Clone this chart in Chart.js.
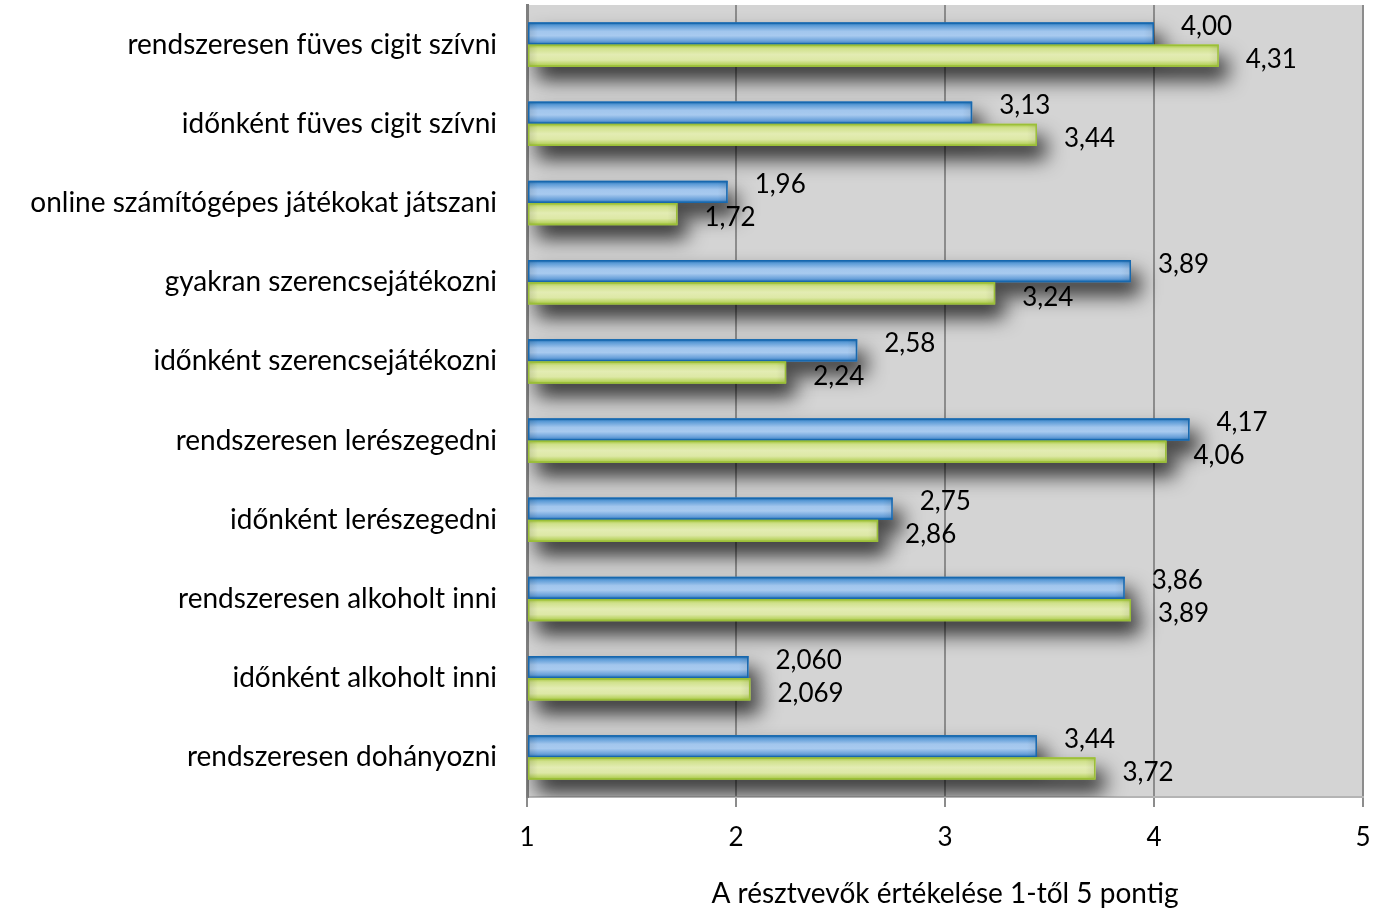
<!DOCTYPE html>
<html lang="hu">
<head>
<meta charset="utf-8">
<script src="https://cdn.jsdelivr.net/npm/chart.js@4"></script>
<style>
  html, body { margin: 0; padding: 0; background: #ffffff; }
  #wrap { width: 1395px; height: 908px; }
</style>
</head>
<body>
<div id="wrap"><canvas id="chart" width="1395" height="908"></canvas></div>
<script>
// Kategóriák (fentről lefelé)
const categories = [
  'rendszeresen füves cigit szívni',
  'időnként füves cigit szívni',
  'online számítógépes játékokat játszani',
  'gyakran szerencsejátékozni',
  'időnként szerencsejátékozni',
  'rendszeresen lerészegedni',
  'időnként lerészegedni',
  'rendszeresen alkoholt inni',
  'időnként alkoholt inni',
  'rendszeresen dohányozni'
];

// Kék sorozat
const blueValues = [4.00, 3.13, 1.96, 3.89, 2.58, 4.17, 2.75, 3.86, 2.060, 3.44];
const blueLabels = ['4,00', '3,13', '1,96', '3,89', '2,58', '4,17', '2,75', '3,86', '2,060', '3,44'];

// Zöld sorozat (a 7. sávot a képen rövidebbnek rajzolták, mint a felirata)
const greenValues = [4.31, 3.44, 1.72, 3.24, 2.24, 4.06, 2.68, 3.89, 2.069, 3.72];
const greenLabels = ['4,31', '3,44', '1,72', '3,24', '2,24', '4,06', '2,86', '3,89', '2,069', '3,72'];

const xTicks = [1, 2, 3, 4, 5];
const xTitle = 'A résztvevők értékelése 1-től 5 pontig';

const FONT = 'Lato, "Open Sans", sans-serif';

// Plot háttér
const plotBg = {
  id: 'plotBg',
  beforeDraw(chart) {
    const { ctx, chartArea: a } = chart;
    ctx.save();
    ctx.fillStyle = '#d4d4d4';
    ctx.fillRect(a.left, a.top, a.right - a.left, a.bottom - a.top);
    ctx.restore();
  }
};

// Árnyék + színátmenetes sávok + értékfeliratok
const barStyle = {
  id: 'barStyle',
  beforeDatasetsDraw(chart) {
    const ctx = chart.ctx;
    ctx.save();
    ctx.shadowColor = 'rgba(0,0,0,0.8)';
    ctx.shadowBlur = 20;
    ctx.shadowOffsetX = 9;
    ctx.shadowOffsetY = 13;
  },
  afterDatasetsDraw(chart) {
    const ctx = chart.ctx;
    ctx.restore();

    const styles = [
      { stops: [[0, '#1767ab'], [0.14, '#5a9ad6'], [0.4, '#a2c6ed'], [0.6, '#a8caef'], [0.85, '#679fd9'], [1, '#1a69ae']], border: '#1768ae', labels: blueLabels, dy: -7 },
      { stops: [[0, '#a5c63c'], [0.18, '#d0e18c'], [0.45, '#e3ecb3'], [0.7, '#dde8a6'], [0.9, '#b9d362'], [1, '#95bb30']], border: '#9bbf38', labels: greenLabels, dy: 4 }
    ];

    chart.data.datasets.forEach((ds, di) => {
      const meta = chart.getDatasetMeta(di);
      const st = styles[di];
      meta.data.forEach((bar, i) => {
        const p = bar.getProps(['x', 'y', 'base', 'height'], true);
        const top = p.y - p.height / 2;
        const left = Math.min(p.base, p.x);
        const w = Math.abs(p.x - p.base);
        const g = ctx.createLinearGradient(0, top, 0, top + p.height);
        st.stops.forEach(s => g.addColorStop(s[0], s[1]));
        ctx.save();
        ctx.fillStyle = g;
        ctx.fillRect(left, top, w, p.height);
        // halvány sötétedés a sáv két végén
        const hg = ctx.createLinearGradient(left, 0, left + w, 0);
        const e = Math.min(10 / w, 0.3);
        hg.addColorStop(0, 'rgba(0,0,0,0.12)');
        hg.addColorStop(e, 'rgba(0,0,0,0)');
        hg.addColorStop(1 - e, 'rgba(0,0,0,0)');
        hg.addColorStop(1, 'rgba(0,0,0,0.08)');
        ctx.fillStyle = hg;
        ctx.fillRect(left, top, w, p.height);
        ctx.strokeStyle = st.border;
        ctx.lineWidth = 1.5;
        ctx.strokeRect(left + 0.75, top + 0.75, w - 1.5, p.height - 1.5);
        // érték felirat
        ctx.fillStyle = '#000000';
        ctx.font = '26px ' + FONT;
        ctx.textAlign = 'left';
        ctx.textBaseline = 'middle';
        ctx.fillText(st.labels[i], p.x + 27, p.y + st.dy);
        ctx.restore();
      });
    });
  }
};

new Chart(document.getElementById('chart'), {
  type: 'bar',
  data: {
    labels: categories,
    datasets: [
      { label: 'kék', data: blueValues, backgroundColor: '#7fb0e2', borderWidth: 0 },
      { label: 'zöld', data: greenValues, backgroundColor: '#cfe08a', borderWidth: 0 }
    ]
  },
  options: {
    indexAxis: 'y',
    responsive: false,
    animation: false,
    devicePixelRatio: 1,
    layout: { padding: { top: 5, right: 32, left: 0, bottom: 0 } },
    datasets: {
      bar: {
        base: 1,
        categoryPercentage: 0.56,
        barPercentage: 1.0
      }
    },
    plugins: {
      legend: { display: false },
      tooltip: { enabled: false }
    },
    scales: {
      x: {
        type: 'linear',
        min: 1,
        max: 5,
        afterBuildTicks(scale) {
          scale.ticks = xTicks.map(v => ({ value: v }));
        },
        afterFit(scale) {
          scale.height = 111;
          scale.paddingLeft = 0;
          scale.paddingRight = 0;
        },
        grid: {
          color: '#8c8c8c',
          lineWidth: 2,
          drawTicks: true,
          tickLength: 10,
          tickColor: '#8c8c8c'
        },
        border: { display: true, color: '#b4b4b4', width: 2 },
        ticks: {
          color: '#000000',
          padding: 15,
          font: { family: FONT, size: 26 },
          callback: v => String(v)
        },
        title: {
          display: true,
          text: xTitle,
          color: '#000000',
          font: { family: FONT, size: 28, lineHeight: 1.0 },
          padding: { top: 0, bottom: 0 }
        }
      },
      y: {
        type: 'category',
        afterFit(scale) {
          scale.width = 527;
          scale.paddingTop = 0;
          scale.paddingBottom = 0;
        },
        grid: { display: false, drawTicks: false },
        border: { display: true, color: '#7f7f7f', width: 3 },
        ticks: {
          color: '#000000',
          padding: 30,
          font: { family: FONT, size: 28 }
        }
      }
    }
  },
  plugins: [plotBg, barStyle]
});
</script>
</body>
</html>
